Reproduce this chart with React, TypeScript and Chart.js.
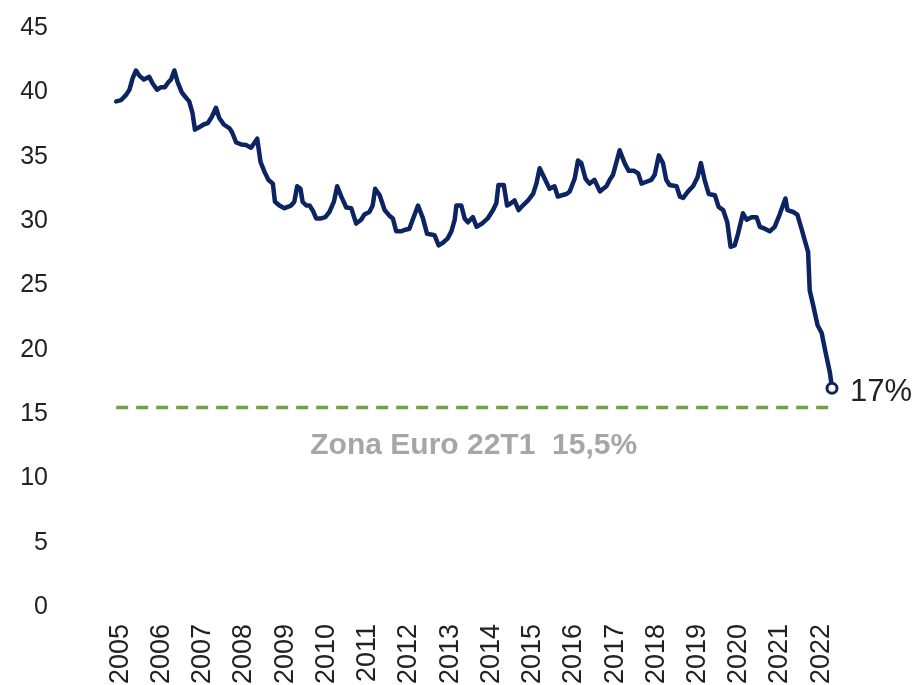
import React, { useEffect, useRef } from "react";
import { Chart, registerables } from "chart.js";

Chart.register(...registerables);

// Time position (decimal year) of each vertex of the series
const dates: number[] = [
  2004.90, 2005.02, 2005.14, 2005.22, 2005.30, 2005.38, 2005.46, 2005.57, 2005.70, 2005.78,
  2005.89, 2005.99, 2006.08, 2006.17, 2006.23, 2006.31, 2006.39, 2006.49, 2006.59, 2006.67,
  2006.75, 2006.81, 2006.92, 2007.02, 2007.12, 2007.22, 2007.32, 2007.40, 2007.51, 2007.65,
  2007.71, 2007.81, 2007.93, 2008.05, 2008.17, 2008.32, 2008.40, 2008.50, 2008.59, 2008.70,
  2008.75, 2008.86, 2008.98, 2009.14, 2009.22, 2009.29, 2009.37, 2009.42, 2009.51, 2009.59,
  2009.67, 2009.75, 2009.87, 2009.97, 2010.07, 2010.18, 2010.26, 2010.36, 2010.48, 2010.60,
  2010.72, 2010.84, 2010.92, 2011.04, 2011.12, 2011.18, 2011.29, 2011.41, 2011.53, 2011.61,
  2011.69, 2011.81, 2011.89, 2012.01, 2012.09, 2012.22, 2012.34, 2012.44, 2012.54, 2012.62,
  2012.72, 2012.82, 2012.94, 2013.03, 2013.11, 2013.15, 2013.27, 2013.35, 2013.43, 2013.55,
  2013.64, 2013.77, 2013.91, 2014.04, 2014.12, 2014.17, 2014.30, 2014.38, 2014.48, 2014.56,
  2014.66, 2014.76, 2014.89, 2015.01, 2015.09, 2015.17, 2015.29, 2015.41, 2015.53, 2015.61,
  2015.71, 2015.82, 2015.90, 2016.02, 2016.10, 2016.18, 2016.28, 2016.38, 2016.50, 2016.63,
  2016.71, 2016.79, 2016.87, 2016.95, 2017.11, 2017.23, 2017.33, 2017.46, 2017.56, 2017.64,
  2017.76, 2017.88, 2017.96, 2018.06, 2018.16, 2018.24, 2018.32, 2018.49, 2018.57, 2018.65,
  2018.77, 2018.89, 2019.00, 2019.08, 2019.17, 2019.27, 2019.42, 2019.51, 2019.62, 2019.72,
  2019.80, 2019.90, 2019.98, 2020.10, 2020.19, 2020.31, 2020.43, 2020.51, 2020.63, 2020.75,
  2020.87, 2020.99, 2021.13, 2021.18, 2021.32, 2021.42, 2021.52, 2021.60, 2021.68, 2021.72,
  2021.80, 2021.91, 2022.01, 2022.09, 2022.21, 2022.26,
];

// Series values (%)
const values: number[] = [
  39.3, 39.4, 39.8, 40.2, 41.1, 41.7, 41.3, 41.0, 41.2, 40.7,
  40.2, 40.4, 40.4, 40.8, 41.0, 41.7, 40.8, 40.0, 39.6, 39.3,
  38.4, 37.1, 37.3, 37.5, 37.6, 38.1, 38.8, 38.0, 37.5, 37.2,
  36.9, 36.1, 35.95, 35.9, 35.7, 36.4, 34.6, 33.8, 33.2, 32.9,
  31.5, 31.2, 31.0, 31.2, 31.5, 32.7, 32.5, 31.5, 31.2, 31.2,
  30.8, 30.2, 30.2, 30.3, 30.7, 31.5, 32.7, 31.9, 31.05, 31.0,
  29.8, 30.1, 30.5, 30.7, 31.2, 32.5, 32.0, 30.85, 30.4, 30.2,
  29.2, 29.2, 29.3, 29.4, 30.1, 31.2, 30.2, 29.0, 28.95, 28.9,
  28.1, 28.3, 28.65, 29.2, 30.1, 31.2, 31.2, 30.2, 29.9, 30.3,
  29.55, 29.8, 30.2, 30.85, 31.4, 32.8, 32.8, 31.2, 31.4, 31.6,
  30.85, 31.2, 31.6, 32.1, 32.9, 34.1, 33.3, 32.5, 32.7, 31.9,
  32.0, 32.1, 32.3, 33.3, 34.7, 34.5, 33.3, 32.9, 33.2, 32.3,
  32.5, 32.7, 33.2, 33.6, 35.5, 34.5, 33.9, 33.9, 33.7, 32.9,
  33.05, 33.2, 33.6, 35.1, 34.5, 33.2, 32.8, 32.7, 31.9, 31.8,
  32.3, 32.7, 33.4, 34.5, 33.2, 32.1, 32.0, 31.1, 30.85, 29.9,
  28.0, 28.1, 29.0, 30.6, 30.1, 30.3, 30.3, 29.55, 29.4, 29.2,
  29.55, 30.5, 31.75, 30.85, 30.7, 30.5, 29.4, 28.5, 27.6, 24.6,
  23.5, 21.9, 21.3, 20.0, 18.2, 17.0,
];

const yearTicks: number[] = [
  2005, 2006, 2007, 2008, 2009, 2010, 2011, 2012, 2013,
  2014, 2015, 2016, 2017, 2018, 2019, 2020, 2021, 2022,
];

const xAxisMin = 2003.44;
const euroAreaValue = 15.5;
const euroAreaLabel = "Zona Euro 22T1  15,5%";
const euroAreaLabelPos = 2013.57;
const lastValueLabel = "17%";

const FONT = '"Liberation Sans", Arial, Helvetica, sans-serif';

export default function App() {
  const canvasRef = useRef<HTMLCanvasElement>(null);

  useEffect(() => {
    if (!canvasRef.current) return;
    const last = values.length - 1;
    const seriesPoints = dates.map((d, i) => ({ x: d, y: values[i] }));
    const euroPoints = [
      { x: dates[0], y: euroAreaValue },
      { x: dates[last], y: euroAreaValue },
    ];

    const labelsPlugin = {
      id: "customLabels",
      afterDatasetsDraw(chart: any) {
        const { ctx, scales } = chart;
        const xs = scales.x;
        const ys = scales.y;
        ctx.save();
        ctx.font = `31px ${FONT}`;
        ctx.fillStyle = "#222222";
        ctx.textAlign = "left";
        ctx.textBaseline = "middle";
        ctx.fillText(
          lastValueLabel,
          xs.getPixelForValue(dates[last]) + 18,
          ys.getPixelForValue(values[last]) + 4
        );
        ctx.font = `bold 30px ${FONT}`;
        ctx.fillStyle = "#a6a6a6";
        ctx.textAlign = "center";
        ctx.fillText(
          euroAreaLabel,
          xs.getPixelForValue(euroAreaLabelPos),
          ys.getPixelForValue(euroAreaValue) + 38
        );
        ctx.restore();
      },
    };

    const chart = new Chart(canvasRef.current, {
      type: "line",
      data: {
        datasets: [
          {
            data: seriesPoints,
            borderColor: "#0c2461",
            borderWidth: 4.5,
            tension: 0,
            borderJoinStyle: "round",
            borderCapStyle: "round",
            pointRadius: (c: any) => (c.dataIndex === last ? 5 : 0),
            pointBorderWidth: 3,
            pointBackgroundColor: "#ffffff",
            pointBorderColor: "#0c2461",
            clip: false,
            order: 0,
          },
          {
            data: euroPoints,
            borderColor: "#70a245",
            borderWidth: 3.5,
            borderDash: [12, 8],
            pointRadius: 0,
            tension: 0,
            clip: false,
            order: 1,
          },
        ],
      } as any,
      options: {
        animation: false,
        responsive: true,
        maintainAspectRatio: false,
        layout: { padding: { top: 28, right: 87, bottom: 0, left: 0 } },
        plugins: {
          legend: { display: false },
          tooltip: { enabled: false },
        },
        scales: {
          x: {
            type: "linear",
            min: xAxisMin,
            max: dates[last],
            afterBuildTicks: (axis: any) => {
              axis.ticks = yearTicks.map((v) => ({ value: v }));
            },
            afterFit: (scale: any) => {
              scale.height = 78;
            },
            grid: { display: false, drawTicks: false },
            border: { display: false },
            ticks: {
              autoSkip: false,
              minRotation: 90,
              maxRotation: 90,
              padding: 17,
              color: "#222222",
              font: { family: FONT, size: 27 },
              callback: (v: any) => String(v),
            },
          },
          y: {
            min: 0,
            max: 45,
            afterFit: (scale: any) => {
              scale.width = 56;
            },
            grid: { display: false, drawTicks: false },
            border: { display: false },
            ticks: {
              stepSize: 5,
              padding: 8,
              color: "#222222",
              font: { family: FONT, size: 25 },
            },
          },
        },
      } as any,
      plugins: [labelsPlugin],
    });

    return () => chart.destroy();
  }, []);

  return (
    <div style={{ position: "absolute", left: 0, top: 0, width: 919, height: 685 }}>
      <canvas ref={canvasRef} />
    </div>
  );
}
